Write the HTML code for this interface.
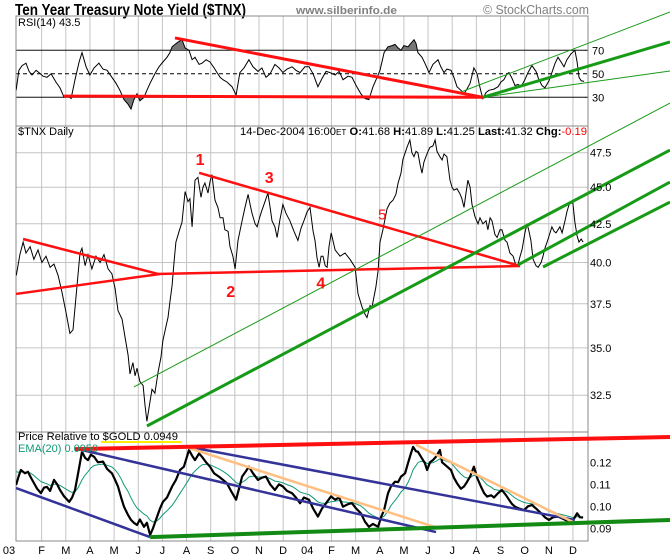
<!DOCTYPE html>
<html><head><meta charset="utf-8"><style>
html,body{margin:0;padding:0;background:#fff;}
svg{display:block;font-family:"Liberation Sans",sans-serif;}
</style></head><body>
<svg id="chart" width="670" height="558" viewBox="0 0 670 558" xmlns="http://www.w3.org/2000/svg">
<text x="15" y="15" font-size="16" font-weight="bold" textLength="231" lengthAdjust="spacingAndGlyphs">Ten Year Treasury Note Yield ($TNX)</text>
<text x="296" y="14" font-size="11" font-weight="bold" fill="#808080" textLength="101" lengthAdjust="spacingAndGlyphs">www.silberinfo.de</text>
<text x="483" y="14" font-size="13" fill="#808080" textLength="106" lengthAdjust="spacingAndGlyphs">© StockCharts.com</text>
<g id="grid"></g>
<g id="series"></g>
<g id="annot"></g>
<g id="labels"></g>
</svg>
<script>
// ---------- data ----------
const monthLabels=["03","F","M","A","M","J","J","A","S","O","N","D","04","F","M","A","M","J","J","A","S","O","N","D"];
const mainTicks=[32.5,35.0,37.5,40.0,42.5,45.0,47.5];
const rsiTicks=[30,50,70];
const relTicks=[0.09,0.10,0.11,0.12];
const tnxT=[-0.05,0.10,0.23,0.35,0.52,0.68,0.85,1.01,1.18,1.35,1.51,1.68,1.84,2.01,2.17,2.30,2.46,2.59,2.67,2.80,2.92,3.08,3.25,3.42,3.58,3.75,3.91,4.04,4.16,4.33,4.45,4.58,4.66,4.78,4.87,4.95,5.07,5.20,5.28,5.36,5.49,5.57,5.69,5.82,5.94,6.02,6.15,6.23,6.31,6.40,6.48,6.56,6.69,6.81,6.94,7.06,7.14,7.23,7.35,7.47,7.60,7.68,7.76,7.89,7.97,8.05,8.18,8.30,8.39,8.51,8.59,8.72,8.80,8.92,9.01,9.13,9.21,9.30,9.42,9.55,9.63,9.71,9.84,9.92,10.04,10.12,10.25,10.37,10.46,10.54,10.66,10.75,10.87,10.99,11.12,11.28,11.45,11.61,11.74,11.86,11.99,12.11,12.24,12.32,12.40,12.49,12.57,12.65,12.74,12.82,12.90,12.99,13.15,13.36,13.56,13.77,13.98,14.10,14.27,14.39,14.47,14.60,14.68,14.84,14.93,15.01,15.13,15.30,15.42,15.55,15.67,15.76,15.88,15.96,16.13,16.25,16.33,16.42,16.50,16.58,16.67,16.75,16.83,16.91,17.00,17.08,17.20,17.29,17.37,17.49,17.58,17.66,17.78,17.91,17.99,18.07,18.20,18.32,18.40,18.49,18.57,18.65,18.74,18.82,18.94,19.07,19.15,19.27,19.40,19.48,19.57,19.65,19.77,19.86,19.98,20.06,20.19,20.27,20.39,20.52,20.64,20.73,20.81,20.89,21.01,21.10,21.18,21.26,21.35,21.47,21.56,21.68,21.76,21.84,21.93,22.05,22.13,22.22,22.30,22.38,22.46,22.55,22.67,22.75,22.84,22.92,23.00,23.08,23.17,23.25,23.34,23.42];
const tnxV=[39.2,40.5,41.3,40.6,41.0,40.2,40.8,40.0,40.4,39.7,39.9,39.2,38.2,37.0,35.8,36.0,38.5,40.6,40.9,39.8,40.5,39.6,40.4,40.0,40.5,39.6,39.3,38.4,37.1,36.6,35.6,34.6,33.6,34.2,33.5,33.9,33.2,33.0,32.0,31.2,32.2,32.8,32.6,33.7,34.5,35.4,36.2,36.7,37.6,38.6,40.0,41.3,42.0,42.6,44.7,44.0,44.2,42.3,45.5,45.7,44.3,45.0,45.3,44.6,45.4,45.9,44.1,43.6,42.9,42.9,42.1,42.0,41.0,40.4,39.6,41.4,42.0,42.7,43.6,44.5,43.8,43.2,42.5,42.3,43.0,43.4,44.0,44.6,43.6,42.7,42.3,41.6,42.8,43.8,43.2,42.7,42.0,41.4,42.2,42.7,43.3,43.6,42.0,41.4,40.3,39.7,40.4,40.4,39.8,39.7,41.0,41.9,40.8,40.4,40.6,40.2,39.7,38.1,37.3,36.9,36.7,37.4,37.3,38.5,39.5,41.3,42.1,43.5,43.9,44.1,44.5,45.3,46.0,47.0,47.9,48.45,47.5,47.2,47.6,47.5,46.6,46.0,46.8,47.2,47.6,47.9,48.0,48.45,47.6,47.2,46.96,47.4,47.2,45.5,45.0,44.8,44.9,44.55,44.2,43.6,44.6,45.5,45.0,43.8,43.0,42.5,42.9,42.5,42.7,42.1,42.9,42.7,41.8,41.6,42.1,42.1,41.4,41.3,40.6,40.4,39.8,39.9,40.4,40.8,41.9,42.5,42.0,41.4,40.2,39.8,39.7,40.0,40.4,40.9,41.3,41.9,42.3,42.0,41.9,42.1,42.3,41.9,42.7,43.3,43.8,43.9,43.9,42.6,41.7,41.3,41.5,41.3];
const rsiT=[-0.06,0.06,0.19,0.35,0.48,0.60,0.77,0.89,1.06,1.22,1.39,1.59,1.76,1.93,2.09,2.22,2.38,2.55,2.67,2.84,3.00,3.17,3.37,3.54,3.71,3.91,4.08,4.24,4.41,4.58,4.70,4.82,4.95,5.07,5.24,5.36,5.49,5.69,5.86,6.02,6.19,6.31,6.40,6.52,6.65,6.81,6.94,7.10,7.23,7.35,7.52,7.64,7.81,7.97,8.14,8.26,8.39,8.51,8.67,8.88,9.05,9.21,9.38,9.58,9.75,9.96,10.12,10.29,10.46,10.66,10.83,10.99,11.16,11.37,11.53,11.70,11.90,12.07,12.24,12.44,12.61,12.78,12.94,13.15,13.32,13.48,13.69,13.85,14.02,14.22,14.39,14.55,14.72,14.89,15.01,15.18,15.34,15.51,15.63,15.76,15.88,16.00,16.17,16.29,16.42,16.50,16.58,16.75,16.87,17.04,17.20,17.41,17.53,17.66,17.78,17.95,18.07,18.20,18.36,18.49,18.61,18.74,18.90,19.03,19.11,19.19,19.27,19.40,19.52,19.73,19.90,20.02,20.14,20.27,20.35,20.48,20.60,20.73,20.85,21.01,21.14,21.30,21.47,21.59,21.72,21.84,22.01,22.13,22.26,22.38,22.51,22.63,22.75,22.92,23.08,23.17,23.25,23.34,23.46];
const rsiV=[36,53,57,59,52,49,53,51,48,47,50,43,38,30,31,29,45,60,68,56,49,55,59,54,53,47,42,36,28,24,20,28,33,27,30,36,42,50,56,60,64,68,73,75,77,79,72,70,62,64,58,59,62,60,55,51,47,45,43,39,32,51,55,62,56,52,55,47,50,58,55,51,54,56,53,51,56,56,50,39,46,52,51,49,52,45,48,47,40,33,29,28,39,47,53,68,73,74,75,72,70,74,73,76,79,76,68,64,59,51,58,62,56,51,54,53,47,39,36,33,37,42,55,50,42,35,29,34,36,37,39,43,45,50,51,46,40,41,39,45,51,57,52,45,40,38,44,51,59,64,60,56,62,67,70,60,47,44,43.5];
const relT=[-0.06,0.06,0.14,0.31,0.43,0.56,0.68,0.81,0.97,1.10,1.22,1.35,1.51,1.64,1.76,1.93,2.14,2.26,2.38,2.51,2.67,2.80,2.92,3.04,3.17,3.33,3.54,3.71,3.91,4.04,4.16,4.29,4.41,4.58,4.70,4.82,4.95,5.07,5.24,5.36,5.49,5.61,5.78,5.90,6.02,6.19,6.40,6.56,6.73,6.89,7.10,7.23,7.35,7.52,7.64,7.81,7.97,8.14,8.34,8.51,8.67,8.84,9.05,9.17,9.30,9.46,9.58,9.75,9.96,10.12,10.29,10.46,10.66,10.83,10.99,11.16,11.37,11.53,11.70,11.86,12.07,12.24,12.44,12.61,12.78,12.98,13.15,13.32,13.48,13.69,13.85,14.02,14.22,14.39,14.55,14.72,14.93,15.05,15.18,15.34,15.46,15.63,15.76,15.88,16.05,16.17,16.29,16.38,16.50,16.58,16.71,16.87,16.96,17.08,17.20,17.33,17.49,17.58,17.74,17.95,18.07,18.20,18.36,18.49,18.61,18.74,18.90,19.03,19.19,19.32,19.44,19.61,19.73,19.90,20.06,20.23,20.35,20.48,20.60,20.77,20.98,21.14,21.30,21.47,21.68,21.84,22.01,22.17,22.38,22.55,22.75,22.88,23.00,23.17,23.29,23.42];
const relV=[.1097,.1140,.1165,.1150,.1157,.1130,.1106,.1080,.1060,.1085,.1088,.1070,.1120,.1100,.1074,.1045,.1020,.1040,.1074,.1150,.1248,.1220,.1210,.1235,.1225,.1200,.1203,.1170,.1150,.1120,.1090,.1040,.0998,.0960,.0938,.0925,.0915,.0940,.0907,.0925,.0870,.0900,.0953,.0990,.1020,.1040,.1090,.1120,.1165,.1180,.1256,.1230,.1210,.1240,.1225,.1200,.1180,.1150,.1135,.1120,.1105,.1070,.1030,.1080,.1135,.1160,.1180,.1150,.1120,.1130,.1135,.1100,.1074,.1100,.1090,.1070,.1059,.1040,.1014,.1040,.1030,.0990,.0953,.0990,.1014,.1045,.1030,.1040,.0998,.1010,.1014,.0990,.0968,.0930,.0907,.0920,.0907,.0950,.0983,.1059,.1090,.1112,.1110,.1135,.1150,.1196,.1240,.1270,.1250,.1248,.1225,.1196,.1165,.1200,.1210,.1225,.1256,.1200,.1185,.1165,.1130,.1105,.1080,.1090,.1110,.1135,.1180,.1130,.1090,.1060,.1044,.1050,.1040,.1060,.1074,.1050,.1030,.1010,.0998,.0990,.0983,.1000,.1006,.0990,.0968,.0950,.0938,.0950,.0953,.0945,.0935,.0940,.0935,.0968,.0950,.0949];
const emaSeed=0.1175;
// trendlines [t1,v1,t2,v2]
const mainRed=[[-0.06,38.08,5.90,39.29],[0.23,41.50,5.82,39.29],[5.78,39.29,20.81,39.78],[7.52,46.03,20.81,39.78]];
const mainGreenThin=[[4.82,32.92,27.02,51.34]];
const mainGreenThick=[[5.36,30.97,27.02,47.70],[20.72,39.85,27.02,45.37],[21.76,39.72,27.02,43.97]];
const rsiRed=[[1.93,31,19.27,30],[6.52,80.5,19.27,30]];
const rsiGreenThick=[[19.27,30,27.02,77.1]];
const rsiGreenThin=[[18.36,34.5,27.02,102.6],[19.27,30,27.02,52.4]];
const relRed=[[2.38,.1260,27.02,.1315]];
const relGreen=[[5.49,.0860,27.02,.0938]];
const relNavy=[[-0.06,.1083,5.49,.0860],[2.67,.1256,17.33,.0883],[7.10,.1270,23.08,.0938]];
const relPeach=[[7.10,.1265,17.41,.0901],[16.50,.1279,23.08,.0924]];
const waves=[["1",7.56,46.6],["2",8.83,37.9],["3",10.42,45.3],["4",12.56,38.4],["5",15.1,42.8]];

// ---------- scales ----------
const L=16,R=588;
const P={rsi:[16,126],main:[126,432],rel:[432,541]};
const X=t=>17.5+t*24.15;
const Ym=v=>152.7+639*Math.log(47.5/v);
const Yr=v=>97.3-(v-30)*47/40;
const Yp=v=>462.3+(0.12-v)*2200;
const NS="http://www.w3.org/2000/svg";
function mk(parent,tag,attrs){const e=document.createElementNS(NS,tag);for(const k in attrs)e.setAttribute(k,attrs[k]);document.getElementById(parent).appendChild(e);return e;}
const svg=document.getElementById('chart');
// clip paths
const defs=document.createElementNS(NS,'defs');svg.insertBefore(defs,svg.firstChild);
for(const k in P){const c=document.createElementNS(NS,'clipPath');c.setAttribute('id','clip-'+k);const r=document.createElementNS(NS,'rect');r.setAttribute('x',L);r.setAttribute('y',P[k][0]);r.setAttribute('width',R-L);r.setAttribute('height',P[k][1]-P[k][0]);c.appendChild(r);defs.appendChild(c);}

// ---------- grid ----------
monthLabels.forEach((m,i)=>{
  const x=X(i);
  if(i>0){const g=mk('grid','line',{x1:x,x2:x,y1:16,y2:541,stroke:'#c4c4c4','stroke-width':1});
  
  }
  const t=mk('labels','text',{x:i===0?9:x,y:554,'font-size':11,'text-anchor':'middle'});t.textContent=m;
  
  
});
mainTicks.forEach(v=>{
  const y=Ym(v);
  const g=mk('grid','line',{x1:L,x2:R,y1:y,y2:y,stroke:'#c4c4c4'});
  
  
  const t=mk('labels','text',{x:590,y:y+4,'font-size':11});t.textContent=v.toFixed(1);
  
  
});
relTicks.forEach(v=>{
  const y=Yp(v);
  const t=mk('labels','text',{x:590,y:y+4,'font-size':11});t.textContent=v.toFixed(2).replace(/^0/,'0');
  
  
});
rsiTicks.forEach(v=>{
  const y=Yr(v);
  const g=mk('grid','line',{x1:L,x2:R,y1:y,y2:y,stroke:'#000','stroke-dasharray':v===50?'4,3':'none'});
  
  
  const t=mk('labels','text',{x:592,y:y+4,'font-size':11});t.textContent=v;
  
  
});
for(const k in P){const b=mk('grid','rect',{x:L,y:P[k][0],width:R-L,height:P[k][1]-P[k][0],fill:'none',stroke:'#888'});
  
  }

// ---------- series ----------
function pts(T,V,f){return T.map((t,i)=>X(t).toFixed(1)+','+f(V[i]).toFixed(1)).join(' ');}
// RSI fills
const rsiPoly=pts(rsiT,rsiV,Yr);
const x0=X(rsiT[0]),x1=X(rsiT[rsiT.length-1]);
const cu=document.createElementNS(NS,'clipPath');cu.setAttribute('id','clip-rsi-hi');const cur=document.createElementNS(NS,'rect');cur.setAttribute('x',L);cur.setAttribute('y',16);cur.setAttribute('width',R-L);cur.setAttribute('height',Yr(70)-16);cu.appendChild(cur);defs.appendChild(cu);
const cl=document.createElementNS(NS,'clipPath');cl.setAttribute('id','clip-rsi-lo');const clr=document.createElementNS(NS,'rect');clr.setAttribute('x',L);clr.setAttribute('y',Yr(30));clr.setAttribute('width',R-L);clr.setAttribute('height',126-Yr(30));cl.appendChild(clr);defs.appendChild(cl);
const fh=mk('series','polygon',{points:x0+','+Yr(70)+' '+rsiPoly+' '+x1+','+Yr(70),fill:'#777','clip-path':'url(#clip-rsi-hi)'});


const fl=mk('series','polygon',{points:x0+','+Yr(30)+' '+rsiPoly+' '+x1+','+Yr(30),fill:'#777','clip-path':'url(#clip-rsi-lo)'});


const rl=mk('series','polyline',{points:rsiPoly,fill:'none',stroke:'#000','stroke-width':1,'clip-path':'url(#clip-rsi)'});


const ml=mk('series','polyline',{points:pts(tnxT,tnxV,Ym),fill:'none',stroke:'#000','stroke-width':1,'clip-path':'url(#clip-main)'});


// EMA
const ema=[];let e=emaSeed;relV.forEach(v=>{e=e+0.22*(v-e);ema.push(e);});
const el=mk('series','polyline',{points:pts(relT,ema,Yp),fill:'none',stroke:'#119977','stroke-width':1,'clip-path':'url(#clip-rel)'});


const pl=mk('series','polyline',{points:pts(relT,relV,Yp),fill:'none',stroke:'#000','stroke-width':2.2,'stroke-linejoin':'round','clip-path':'url(#clip-rel)'});



// ---------- annotations ----------
function lines(arr,f,color,w,name){arr.forEach(a=>{const l=mk('annot','line',{x1:X(a[0]),y1:f(a[1]),x2:X(a[2]),y2:f(a[3]),stroke:color,'stroke-width':w});
  
  });}
lines(rsiRed,Yr,'#ff1010',3,'rsi-red-trendline');
lines(rsiGreenThin,Yr,'#179b17',1,'rsi-green-channel-line');
lines(rsiGreenThick,Yr,'#179b17',3,'rsi-green-trendline');
lines(mainRed,Ym,'#ff1010',2.5,'main-red-trendline');
lines(mainGreenThin,Ym,'#179b17',1,'main-green-thin-line');
lines(mainGreenThick,Ym,'#179b17',3,'main-green-channel-line');
lines(relNavy,Yp,'#333399',2.5,'rel-navy-trendline');
lines(relPeach,Yp,'#ffbf80',2.5,'rel-peach-trendline');
lines(relRed,Yp,'#ff1010',4,'rel-red-resistance');
lines(relGreen,Yp,'#138a13',4,'rel-green-support');
waves.forEach(w=>{const t=mk('annot','text',{x:X(w[1]),y:Ym(w[2]),'font-size':w[0]==='5'?15:16,'font-weight':w[0]==='5'?'normal':'bold',fill:'#ff1010','text-anchor':'middle'});t.textContent=w[0];
  
  });

// ---------- panel text ----------
function txt(x,y,s,attrs,name){const t=mk('labels','text',Object.assign({x:x,y:y,'font-size':11},attrs||{}));t.textContent=s;
  
  return t;}
txt(18,26,'RSI(14) 43.5',{},'rsi-label');
txt(18,135,'$TNX Daily',{},'main-label');
const info=mk('labels','text',{x:240,y:135,'font-size':11,textLength:347,lengthAdjust:'spacingAndGlyphs'});


info.innerHTML='14-Dec-2004 16:00<tspan font-size="8">ET</tspan> <tspan font-weight="bold">O:</tspan>41.68 <tspan font-weight="bold">H:</tspan>41.89 <tspan font-weight="bold">L:</tspan>41.25 <tspan font-weight="bold">Last:</tspan>41.32 <tspan font-weight="bold">Chg:</tspan><tspan fill="#ff0000">-0.19</tspan>';
const ul=mk('labels','line',{x1:101,x2:182,y1:442,y2:442,stroke:'#ffee00','stroke-width':2});


txt(18,440,'Price Relative to $GOLD  0.0949',{textLength:160,lengthAdjust:'spacingAndGlyphs'},'rel-label');
txt(18,452,'EMA(20) 0.0950',{fill:'#119977'},'ema-label');
</script>
</body></html>
